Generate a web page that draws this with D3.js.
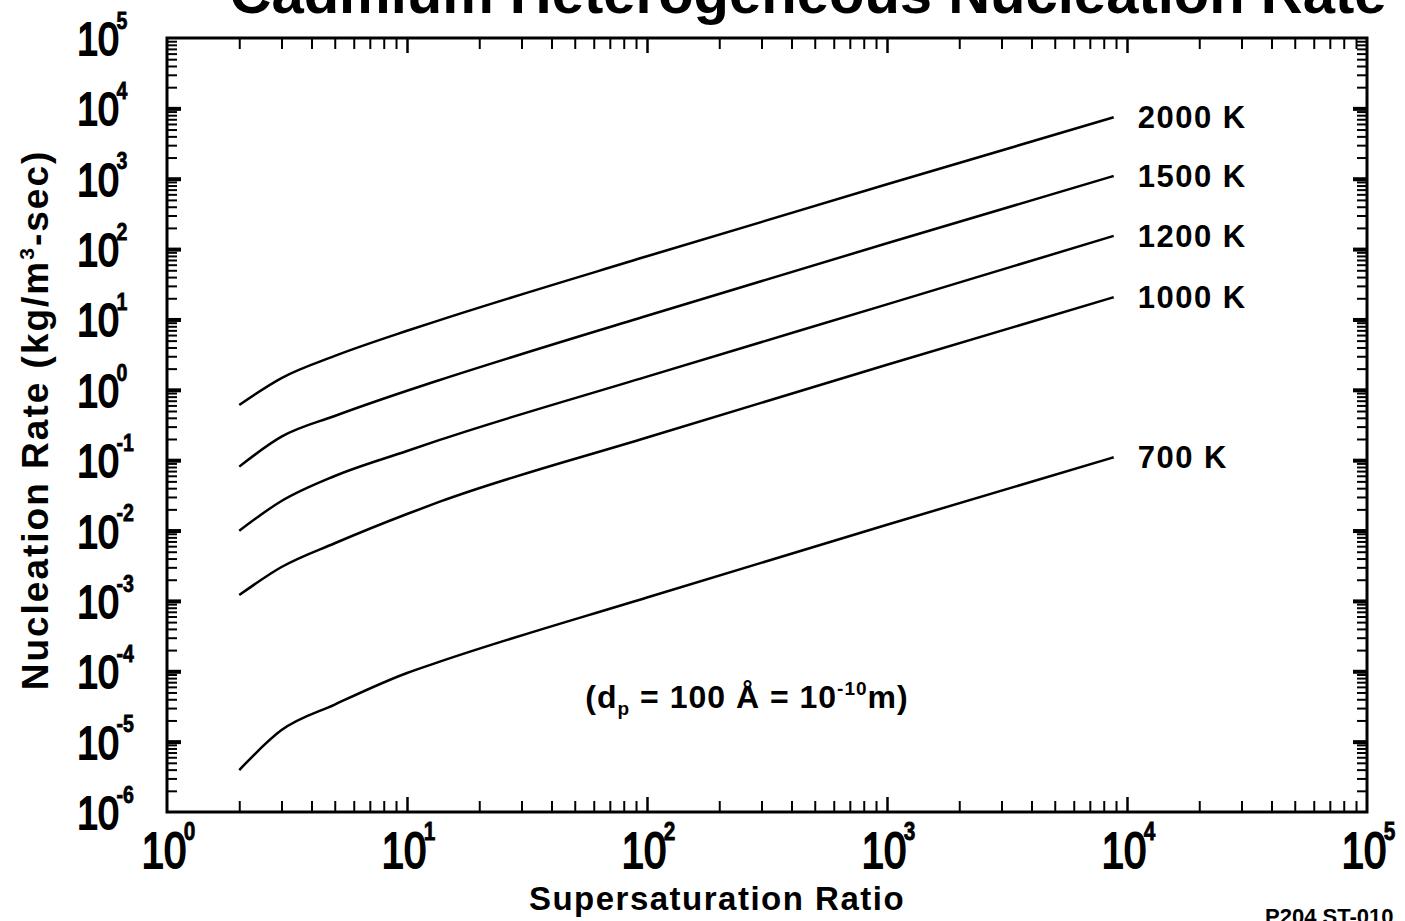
<!DOCTYPE html>
<html>
<head>
<meta charset="utf-8">
<script src="https://cdn.jsdelivr.net/npm/d3@7"></script>
<style>
  html, body { margin: 0; padding: 0; background: #fff; }
  svg { display: block; }
  .num { font-family: "Liberation Sans", Arial, sans-serif; font-weight: bold; fill: #000; }
  .lbl { font-family: "Liberation Sans", Arial, sans-serif; font-weight: bold; fill: #000; }
</style>
</head>
<body>
<div id="chart"></div>
<script>
var satRatio = [2, 3, 5, 10, 13.7, 100, 1000, 8800];
var rate2000 = [0.61, 1.47, 3.03, 6.9, 9.8, 79, 834, 7460];
var rate1500 = [0.081, 0.216, 0.425, 0.97, 1.38, 11.3, 121, 1094];
var rate1200 = [0.00995, 0.0263, 0.0596, 0.135, 0.194, 1.54, 16.4, 154];
var rate1000 = [0.00121, 0.00303, 0.0066, 0.0172, 0.0257, 0.21, 2.27, 20.7];
var rate700 = [3.95e-6, 1.46e-5, 3.37e-5, 9.46e-5, 1.37e-4, 1.12e-3, 0.0121, 0.11];

var curveLabels = ["2000 K", "1500 K", "1200 K", "1000 K", "700 K"];
var curveRates = [rate2000, rate1500, rate1200, rate1000, rate700];

// tick labels are 10^n
var xExponents = [0, 1, 2, 3, 4, 5];
var yExponents = [-6, -5, -4, -3, -2, -1, 0, 1, 2, 3, 4, 5];
var minorSteps = [2, 3, 4, 5, 6, 7, 8, 9];

var W = 1405, H = 921;
// (careful: "top" is taken by window.top)
var plotL = 167, plotR = 1367, plotT = 38, plotB = 812;

var x = d3.scaleLog().domain([1, 1e5]).range([plotL, plotR]);
var y = d3.scaleLog().domain([1e-6, 1e5]).range([plotB, plotT]);

var svg = d3.select("#chart").append("svg")
    .attr("width", W)
    .attr("height", H);

// minor / major tick values per decade
function minors(exps) {
    var out = [];
    exps.slice(0, -1).forEach(function (e) {
        minorSteps.forEach(function (m) { out.push(m * Math.pow(10, e)); });
    });
    return out;
}
var xMajor = xExponents.slice(1, -1).map(function (e) { return Math.pow(10, e); });
var yMajor = yExponents.slice(1, -1).map(function (e) { return Math.pow(10, e); });
var xMinor = minors(xExponents);
var yMinor = minors(yExponents);

function tickAxis(axis, pos, size, width) {
    var g = svg.append("g")
        .attr("transform", pos)
        .call(axis.tickSize(size).tickSizeOuter(0).tickFormat(""));
    g.select(".domain").remove();
    g.selectAll(".tick line").attr("stroke", "#000").attr("stroke-width", width);
    return g;
}

// bottom + top ticks point inward
tickAxis(d3.axisTop(x).tickValues(xMinor), "translate(0," + plotB + ")", 11, 2);
tickAxis(d3.axisTop(x).tickValues(xMajor), "translate(0," + plotB + ")", 15, 2.5);
tickAxis(d3.axisBottom(x).tickValues(xMinor), "translate(0," + plotT + ")", 11, 2);
tickAxis(d3.axisBottom(x).tickValues(xMajor), "translate(0," + plotT + ")", 15, 2.5);
// left + right
tickAxis(d3.axisRight(y).tickValues(yMinor), "translate(" + plotL + ",0)", 10, 2);
tickAxis(d3.axisRight(y).tickValues(yMajor), "translate(" + plotL + ",0)", 14, 4);
tickAxis(d3.axisLeft(y).tickValues(yMinor), "translate(" + plotR + ",0)", 10, 2);
tickAxis(d3.axisLeft(y).tickValues(yMajor), "translate(" + plotR + ",0)", 14, 4);

// frame
svg.append("rect")
    .attr("x", plotL).attr("y", plotT)
    .attr("width", plotR - plotL).attr("height", plotB - plotT)
    .attr("fill", "none").attr("stroke", "#000").attr("stroke-width", 3);

// "10" + raised exponent, squeezed sideways like the narrow face of the original
function powLabel(px, py, size, anchor, e) {
    var g = svg.append("g")
        .attr("transform", "translate(" + px + "," + py + ") scale(0.8,1)");
    g.append("text").attr("class", "num")
        .attr("text-anchor", anchor)
        .style("font-size", size + "px")
        .style("font-weight", "normal")
        .style("stroke", "#000").style("stroke-width", 2.2)
        .text("10");
    var w = size * 1.112;
    var x0 = anchor === "end" ? 0 : anchor === "middle" ? w / 2 : w;
    g.append("text").attr("class", "num")
        .attr("x", x0 - 3)
        .attr("y", -size * 0.56)
        .style("font-size", (size * 0.52) + "px")
        .style("stroke", "#000").style("stroke-width", 0.8)
        .text(e < 0 ? "-" + (-e) : e);
}

xExponents.forEach(function (e) {
    powLabel(x(Math.pow(10, e)) - 3, 868, 50, "middle", e);
});
yExponents.forEach(function (e) {
    powLabel(119, y(Math.pow(10, e)) + 17, 47, "end", e);
});

// curves
var line = d3.line()
    .x(function (d) { return x(d[0]); })
    .y(function (d) { return y(d[1]); })
    .curve(d3.curveMonotoneX);

curveRates.forEach(function (rates, i) {
    var pts = satRatio.map(function (s, j) { return [s, rates[j]]; });
    svg.append("path")
        .datum(pts)
        .attr("d", line)
        .attr("fill", "none")
        .attr("stroke", "#000")
        .attr("stroke-width", 2.5);

    var last = pts[pts.length - 1];
    svg.append("text").attr("class", "lbl")
        .attr("x", x(last[0]) + 24)
        .attr("y", y(last[1]) + 11)
        .style("font-size", "31px")
        .style("letter-spacing", "1.5px")
        .text(curveLabels[i]);
});

// annotation
var note = svg.append("text").attr("class", "lbl")
    .attr("x", 747).attr("y", 708)
    .attr("text-anchor", "middle")
    .style("font-size", "32px")
    .style("letter-spacing", "1px");
note.append("tspan").text("(d");
note.append("tspan").attr("dy", 7).style("font-size", "19px").text("p");
note.append("tspan").attr("dy", -7).text(" = 100 Å = 10");
note.append("tspan").attr("dy", -13).style("font-size", "19px").text("-10");
note.append("tspan").attr("dy", 13).text("m)");

// titles
svg.append("text").attr("class", "lbl")
    .attr("x", 808).attr("y", 13)
    .attr("text-anchor", "middle")
    .style("font-size", "58px")
    .text("Cadmium Heterogeneous Nucleation Rate");

svg.append("text").attr("class", "lbl")
    .attr("x", 717).attr("y", 910)
    .attr("text-anchor", "middle")
    .style("font-size", "33px")
    .style("letter-spacing", "1.5px")
    .text("Supersaturation Ratio");

var yt = svg.append("text").attr("class", "lbl")
    .attr("transform", "translate(48,420) rotate(-90)")
    .attr("text-anchor", "middle")
    .style("font-size", "37px")
    .style("letter-spacing", "2px");
yt.append("tspan").text("Nucleation Rate (kg/m");
yt.append("tspan").attr("dy", -14).style("font-size", "21px").text("3");
yt.append("tspan").attr("dy", 14).text("-sec)");

svg.append("text").attr("class", "lbl")
    .attr("x", 1265).attr("y", 924)
    .style("font-size", "22px")
    .text("P204 ST-010");
</script>
</body>
</html>
